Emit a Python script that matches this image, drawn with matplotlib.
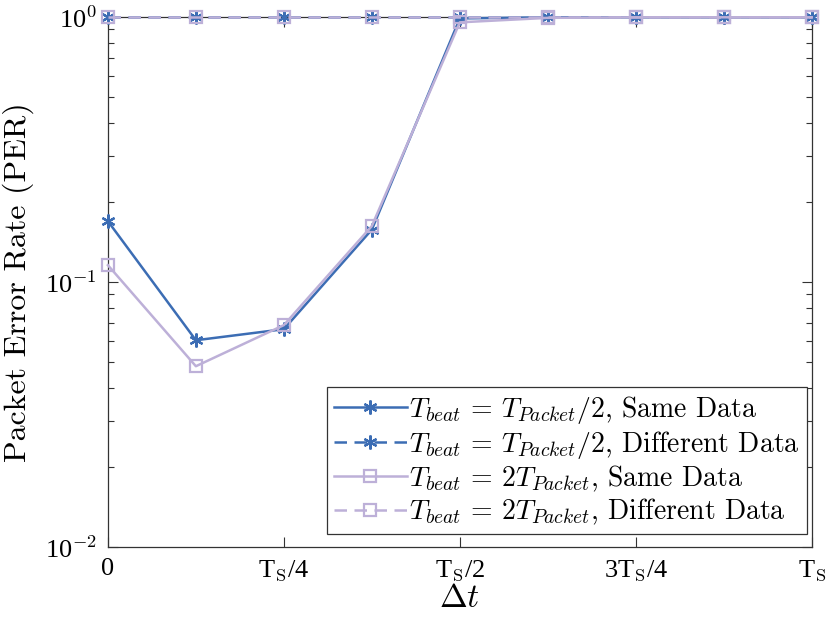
import matplotlib
matplotlib.use("Agg")
import matplotlib.pyplot as plt

# x positions as fractions of T_S
dt = [0, 0.125, 0.25, 0.375, 0.5, 0.625, 0.75, 0.875, 1.0]

per_half_same = [0.170, 0.0604, 0.0665, 0.158, 0.99, 1.0, 1.0, 1.0, 1.0]
per_half_diff = [1.0, 1.0, 1.0, 1.0, 1.0, 1.0, 1.0, 1.0, 1.0]
per_two_same = [0.116, 0.0482, 0.0689, 0.163, 0.957, 0.995, 1.0, 1.0, 1.0]
per_two_diff = [1.0, 1.0, 1.0, 1.0, 1.0, 1.0, 1.0, 1.0, 1.0]

xtick_pos = [0, 0.25, 0.5, 0.75, 1.0]
xtick_labels = ["0", r"T$_{\rm S}$/4", r"T$_{\rm S}$/2", r"3T$_{\rm S}$/4", r"T$_{\rm S}$"]

labels = [
    r"$T_{beat}\,=\,T_{Packet}/2$, Same Data",
    r"$T_{beat}\,=\,T_{Packet}/2$, Different Data",
    r"$T_{beat}\,=\,2T_{Packet}$, Same Data",
    r"$T_{beat}\,=\,2T_{Packet}$, Different Data",
]

BLUE = "#3C6DB4"
PURPLE = "#BDB0D8"

plt.rcParams["mathtext.fontset"] = "cm"
plt.rcParams["font.family"] = "serif"
plt.rcParams["font.serif"] = ["Liberation Serif", "DejaVu Serif"]

fig = plt.figure(figsize=(8.3, 6.4), dpi=100)
ax = fig.add_axes([0.130, 0.145, 0.848, 0.828])

star = (6, 2, 0)
common = dict(lw=1.8, clip_on=False, zorder=3)
ax.plot(dt, per_half_same, color=BLUE, marker=star, ms=10, mew=1.6,
        label=labels[0], **common)
ax.plot(dt, per_half_diff, color=BLUE, ls=(0, (5, 3)), marker=star,
        ms=10, mew=1.6, label=labels[1], **common)
ax.plot(dt, per_two_same, color=PURPLE, marker="s", ms=9, mew=1.6,
        mfc="none", label=labels[2], **common)
ax.plot(dt, per_two_diff, color=PURPLE, ls=(0, (5, 3)), marker="s",
        ms=9, mew=1.6, mfc="none", label=labels[3], **common)

ax.set_yscale("log")
ax.set_ylim(0.01, 1)
ax.set_xlim(0, 1)
ax.set_xticks(xtick_pos)
ax.set_xticklabels(xtick_labels)
ax.set_yticks([0.01, 0.1, 1])
ax.set_yticklabels([r"10$^{-2}$", r"10$^{-1}$", r"10$^{0}$"])

ax.tick_params(which="both", direction="in", top=True, right=True,
               labelsize=19, color="#333333")
ax.tick_params(which="major", length=7, width=0.8, pad=8)
ax.tick_params(which="minor", length=4, width=0.8)
ax.tick_params(axis="x", which="minor", bottom=False, top=False)
for s in ax.spines.values():
    s.set_linewidth(0.9)
    s.set_color("#333333")

ax.set_xlabel(r"$\Delta t$", fontsize=24, labelpad=0)
ax.set_ylabel("Packet Error Rate (PER)", fontsize=23, family="cmr10", labelpad=8)

leg = ax.legend(loc="lower right", prop={"family": "cmr10", "size": 20},
                fancybox=False, edgecolor="#333333",
                framealpha=1, borderpad=0.25, labelspacing=0.1, handlelength=2.6,
                handletextpad=0.1, borderaxespad=0.1,
                bbox_to_anchor=(0.997, 0.02))
leg.get_frame().set_linewidth(0.9)

fig.savefig("out.png", dpi=100)
